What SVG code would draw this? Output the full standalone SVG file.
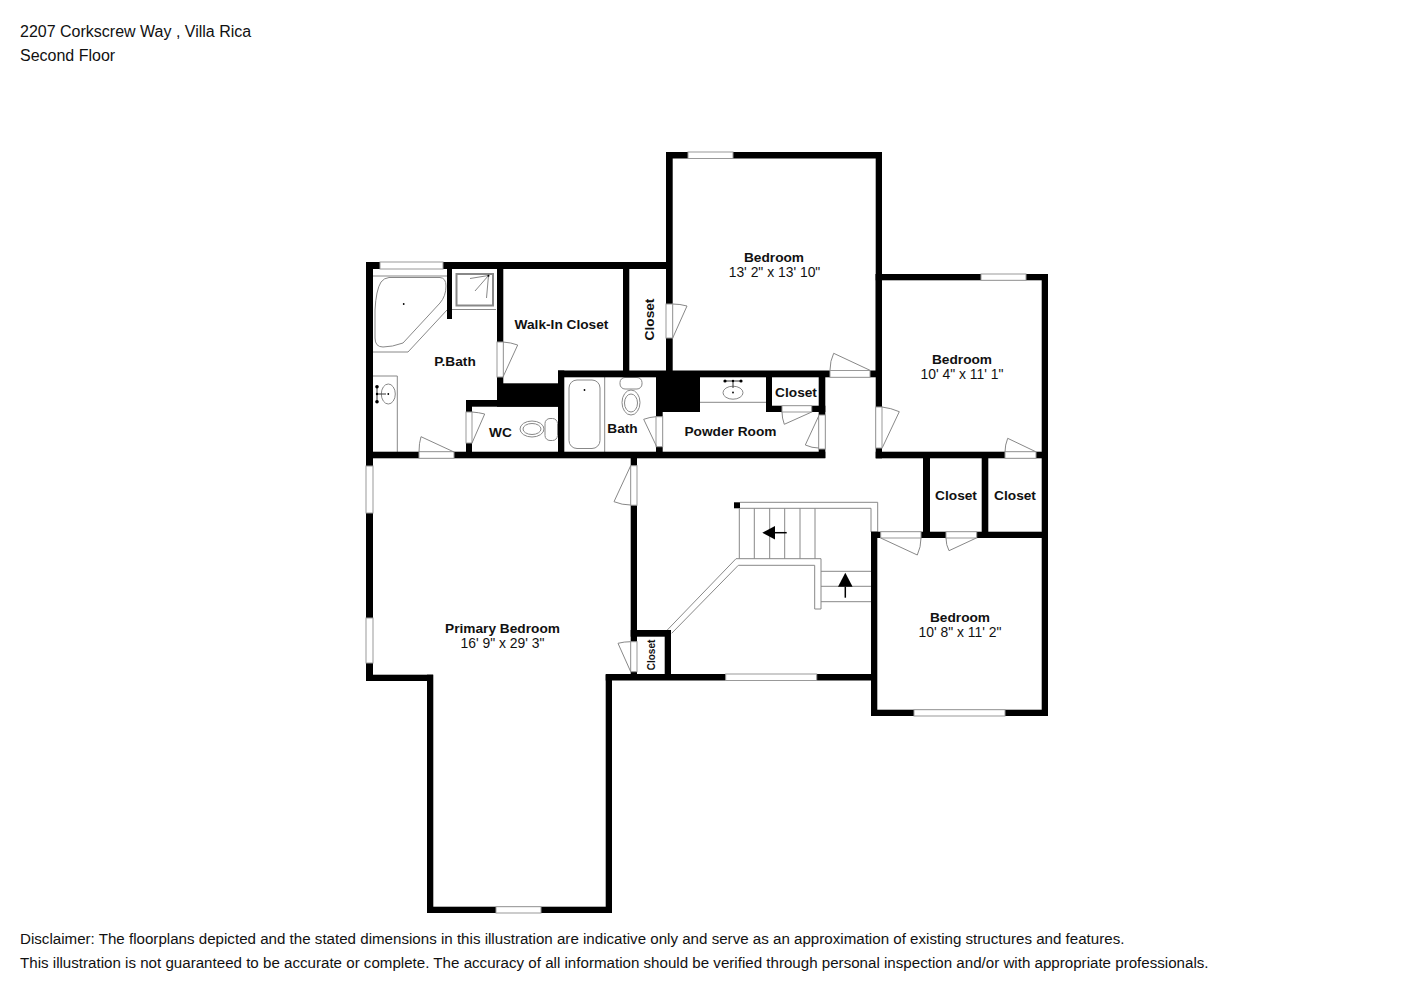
<svg xmlns="http://www.w3.org/2000/svg" width="1414" height="1000" viewBox="0 0 1414 1000">
<defs>
<style>
text{font-family:"Liberation Sans",Arial,sans-serif;fill:#111}
.h{font-size:16px}
.n{font-size:15.13px}
.l{font-size:13.7px;font-weight:bold;text-anchor:middle}
.d{font-size:13.9px;text-anchor:middle}
.w{fill:#000}
.o{fill:#fff;stroke:#999;stroke-width:1}
.t{fill:none;stroke:#888;stroke-width:1}
.f{fill:#fff;stroke:#888;stroke-width:1}
.k{fill:#000}
.a{fill:#000;stroke:#000;stroke-width:1.5}
</style>
</defs>
<rect width="1414" height="1000" fill="#fff"/>
<g id="header">
<text class="h" x="20" y="37">2207 Corkscrew Way , Villa Rica</text>
<text class="h" x="20" y="61">Second Floor</text>
</g>
<g id="fixtures">
<path class="t" d="M373 276H447M447 310L408 352H373"/>
<path class="t" stroke-width="1.3" d="M389 277.5H440Q446 278 446 286Q446 296 440 303L403 343Q392 347 383 347Q375 347 375 338V310Q376 290 381 282Q384 278 389 277.5Z"/>
<circle class="k" cx="403.7" cy="304" r="0.9"/>
<path class="t" d="M452 309.5H496"/>
<rect x="456.5" y="274" width="36.5" height="31.5" fill="none" stroke="#888" stroke-width="2"/>
<path class="t" d="M488.5 275.5L470 278.5M488.5 275.5L475 291M488.5 275.5L486.5 298"/>
<circle class="k" cx="488.5" cy="275.8" r="1"/>
<path class="t" d="M373 376H397.3V452"/>
<ellipse class="t" cx="388.3" cy="394" rx="7" ry="10"/>
<path d="M377 387V401.500M377 394H386" stroke="#333" stroke-width="1" fill="none"/>
<circle class="k" cx="377" cy="386.700" r="1.800"/><circle class="k" cx="377" cy="394" r="1.200"/><circle class="k" cx="377" cy="401.700" r="1.800"/><circle class="k" cx="388.300" cy="394" r="0.900"/>
<rect class="f" x="545" y="418.500" width="12.500" height="22" rx="5"/>
<ellipse class="f" cx="532" cy="429" rx="12" ry="8"/>
<ellipse class="t" cx="532" cy="429" rx="9" ry="5.500"/>
<path class="t" d="M604.700 377V452"/>
<rect class="t" x="569" y="380" width="31" height="68.500" rx="8"/>
<circle class="k" cx="584.500" cy="390" r="0.900"/>
<rect class="f" x="620" y="377.500" width="22" height="11.500" rx="5"/>
<ellipse class="f" cx="631" cy="402.500" rx="9" ry="12.500"/>
<ellipse class="t" cx="631" cy="403" rx="6.500" ry="9"/>
<path class="t" d="M700 402.300H766"/>
<ellipse class="t" cx="733" cy="392.700" rx="10" ry="6.500"/>
<path d="M725 381H741M733 381V388" stroke="#333" stroke-width="1" fill="none"/>
<circle class="k" cx="725" cy="381" r="1.600"/><circle class="k" cx="741" cy="381" r="1.600"/><circle class="k" cx="733" cy="381" r="1.200"/><circle class="k" cx="733" cy="392.500" r="0.900"/>
</g>
<g id="stairs">
<rect class="k" x="734" y="502.300" width="6" height="6"/>
<path class="t" d="M740 502.300H877.700V532M740 508.300H871V532"/>
<path class="t" d="M739.300 508.300V558.700M754.300 508.300V558.700M769.700 508.300V558.700M784.700 508.300V558.700M800 508.300V558.700M815 508.300V558.700"/>
<path class="t" d="M667.300 630L736 558.700H821V609H814.700V565.300H738.300L671.700 633.300"/>
<path class="t" d="M821 571.300H871M821 586.300H871M821 601.700H871"/>
<path class="k" d="M762.300 532.700L775 526V539.400Z"/><path class="a" d="M775 532.700H786.700"/>
<path class="k" d="M845.300 572.700L852.600 586.700H838Z"/><path class="a" d="M845.300 586.700V597.700"/>
</g>
<g id="walls">
<rect class="w" x="366" y="262" width="306" height="7"/>
<rect class="w" x="366" y="262" width="7" height="419"/>
<rect class="w" x="366" y="451.700" width="459.300" height="6.600"/>
<rect class="w" x="447" y="262" width="5" height="57"/>
<rect class="w" x="497" y="262" width="6.300" height="144"/>
<rect class="w" x="466" y="400" width="92" height="6.700"/>
<rect class="w" x="497" y="383.300" width="67" height="23.400"/>
<rect class="w" x="466" y="400" width="6" height="58"/>
<rect class="w" x="558" y="370.500" width="6.300" height="87.500"/>
<rect class="w" x="623" y="262" width="6.300" height="110"/>
<rect class="w" x="558" y="370.500" width="324" height="6.800"/>
<rect class="w" x="666" y="152" width="6.700" height="220"/>
<rect class="w" x="666" y="152" width="216" height="6.500"/>
<rect class="w" x="875.700" y="152" width="6.300" height="224"/>
<rect class="w" x="656" y="371" width="44" height="41"/>
<rect class="w" x="656" y="371" width="6.700" height="87"/>
<rect class="w" x="766" y="371" width="6" height="41"/>
<rect class="w" x="766" y="405.700" width="59.300" height="6.300"/>
<rect class="w" x="818.700" y="371" width="6.600" height="87"/>
<rect class="w" x="875.700" y="274" width="172.300" height="6.300"/>
<rect class="w" x="875.700" y="274" width="6.300" height="184.300"/>
<rect class="w" x="1041.700" y="274" width="6.300" height="442"/>
<rect class="w" x="875.700" y="451.700" width="172.300" height="6.600"/>
<rect class="w" x="923" y="452" width="7" height="86"/>
<rect class="w" x="981.700" y="452" width="6.600" height="86"/>
<rect class="w" x="871" y="531.700" width="177" height="6.300"/>
<rect class="w" x="871" y="531.700" width="6.300" height="184.300"/>
<rect class="w" x="871" y="709.700" width="177" height="6.300"/>
<rect class="w" x="366" y="674.700" width="67" height="6.300"/>
<rect class="w" x="427" y="674.700" width="6.300" height="238.300"/>
<rect class="w" x="427" y="906.700" width="185" height="6.300"/>
<rect class="w" x="605.700" y="674.700" width="6.300" height="238.300"/>
<rect class="w" x="605.700" y="674" width="271" height="6.500"/>
<rect class="w" x="630.700" y="455" width="6.300" height="225"/>
<rect class="w" x="630.700" y="630" width="40.300" height="6.700"/>
<rect class="w" x="664.700" y="630" width="6.300" height="50"/>
</g>
<g id="openings">
<rect class="o" x="380" y="262" width="63" height="7"/>
<rect class="o" x="688" y="152" width="45" height="6.500"/>
<rect class="o" x="981" y="274" width="45" height="6.300"/>
<rect class="o" x="366" y="466" width="7" height="47"/>
<rect class="o" x="366" y="618" width="7" height="45"/>
<rect class="o" x="496" y="906.700" width="45" height="6.300"/>
<rect class="o" x="725.700" y="674" width="91" height="6.500"/>
<rect class="o" x="914" y="709.700" width="91" height="6.300"/>
</g>
<g id="doors">
<rect class="o" x="497" y="342" width="6.300" height="35"/><path class="t" d="M503 377L517.700 345Q511 342.500 503 342"/>
<rect class="o" x="466" y="412" width="6" height="31"/><path class="t" d="M472 443L484.700 414Q479 412.500 472 412"/>
<rect class="o" x="419" y="451.700" width="35" height="6.600"/><path class="t" d="M454 452L421 436.700Q419 443 419 452"/>
<rect class="o" x="666" y="304" width="6.700" height="34"/><path class="t" d="M672.700 338L687 306Q680 304 672.700 304"/>
<rect class="o" x="830" y="370.500" width="40" height="6.800"/><path class="t" d="M870 370.300L833.700 353.300Q830 361 830 370"/>
<rect class="o" x="656" y="416.700" width="6.700" height="30"/><path class="t" d="M656.700 446.700L643.700 419.300Q650 417 656 416.700"/>
<rect class="o" x="818.700" y="415" width="6.600" height="34"/><path class="t" d="M818.700 416L805.300 445Q812 448 818.700 448"/>
<rect class="o" x="782" y="405.700" width="29.700" height="6.300"/><path class="t" d="M811.700 412L784.300 424.300Q782 418 782 412"/>
<rect class="o" x="875.700" y="407" width="6.300" height="41"/><path class="t" d="M882.300 447.700L899.300 411.700Q891 408 882 407"/>
<rect class="o" x="1005" y="451.700" width="31" height="6.600"/><path class="t" d="M1035.700 451.700L1007.700 438.300Q1005 445 1005 452"/>
<rect class="o" x="946" y="531.700" width="30.700" height="6.300"/><path class="t" d="M976.300 538L949 550.700Q946 545 946 538"/>
<rect class="o" x="880.700" y="531.700" width="40.300" height="6.300"/><path class="t" d="M880.700 538L917.300 555Q921 547 921 538"/>
<rect class="o" x="630.700" y="465.700" width="6.300" height="39.500"/><path class="t" d="M630.700 465.700L614 501.700Q622 505 630.700 505"/>
<rect class="o" x="630.700" y="641.700" width="6.300" height="30"/><path class="t" d="M630.700 671.700L618 643.300Q624 641.700 630.700 641.700"/>
</g>
<g id="bedroom-1"><text class="l" x="774" y="261.500">Bedroom</text><text class="d" x="774.500" y="277">13' 2" x 13' 10"</text></g>
<g id="bedroom-2"><text class="l" x="962" y="363.500">Bedroom</text><text class="d" x="962" y="379">10' 4" x 11' 1"</text></g>
<g id="bedroom-3"><text class="l" x="960" y="621.500">Bedroom</text><text class="d" x="960" y="637">10' 8" x 11' 2"</text></g>
<g id="primary-bedroom"><text class="l" x="502.500" y="632.500">Primary Bedroom</text><text class="d" x="502.500" y="648">16' 9" x 29' 3"</text></g>
<g id="p-bath"><text class="l" x="455" y="366">P.Bath</text></g>
<g id="walk-in-closet"><text class="l" x="561.500" y="328.500">Walk-In Closet</text></g>
<g id="closet-1"><text class="l" transform="translate(654 319.500) rotate(-90)">Closet</text></g>
<g id="wc"><text class="l" x="500.500" y="436.500">WC</text></g>
<g id="bath"><text class="l" x="622.500" y="433">Bath</text></g>
<g id="powder-room"><text class="l" x="730.500" y="436">Powder Room</text></g>
<g id="closet-2"><text class="l" x="796" y="396.500">Closet</text></g>
<g id="closet-3"><text class="l" x="956" y="500">Closet</text></g>
<g id="closet-4"><text class="l" x="1015" y="500">Closet</text></g>
<g id="closet-5"><text class="l" style="font-size:10px" transform="translate(655 655) rotate(-90)">Closet</text></g>
<g id="footer">
<text class="n" x="20" y="944">Disclaimer: The floorplans depicted and the stated dimensions in this illustration are indicative only and serve as an approximation of existing structures and features.</text>
<text class="n" x="20" y="968">This illustration is not guaranteed to be accurate or complete. The accuracy of all information should be verified through personal inspection and/or with appropriate professionals.</text>
</g>
</svg>
